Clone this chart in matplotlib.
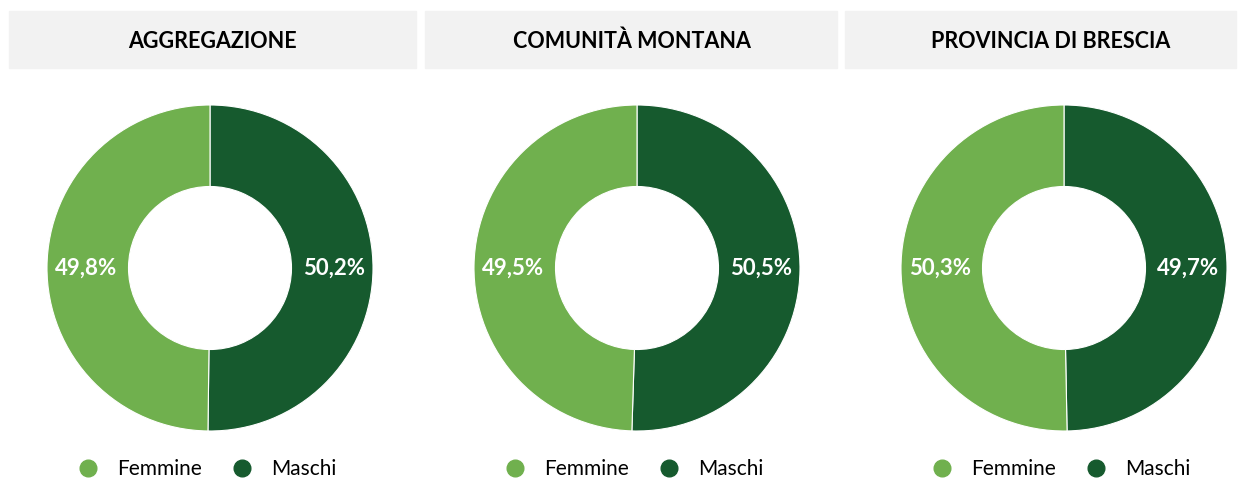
import matplotlib.pyplot as plt
from matplotlib.patches import Rectangle
from matplotlib.lines import Line2D

plt.rcParams['font.family'] = ['Lato', 'DejaVu Sans']

# Dati
titoli = ['AGGREGAZIONE', 'COMUNITÀ MONTANA', 'PROVINCIA DI BRESCIA']
categorie = ['Maschi', 'Femmine']
maschi = [50.2, 50.5, 49.7]
femmine = [49.8, 49.5, 50.3]

col_f = '#70b04e'
col_m = '#165a2e'

W, H = 1244, 478
fig = plt.figure(figsize=(W / 100, H / 100), dpi=100)

# posizioni in pixel (x sinistra, x destra) dei box dei titoli e centri
box_x = [(9, 416), (425, 837), (845, 1236)]
testo_x = [212.5, 631.5, 1051]
centri_x = [210, 637, 1064]
cy, r = 268, 163

for i in range(3):
    x0, x1 = box_x[i]
    fig.patches.append(Rectangle((x0 / W, 1 - 68 / H), (x1 - x0) / W, 57 / H,
                                 transform=fig.transFigure, color='#f2f2f2', zorder=0))
    fig.text(testo_x[i] / W, 1 - 41 / H, titoli[i], ha='center', va='center',
             fontsize=15.5, fontweight='bold', color='black')

    cx = centri_x[i]
    ax = fig.add_axes([(cx - r) / W, (H - cy - r) / H, 2 * r / W, 2 * r / H])
    valori = [maschi[i], femmine[i]]
    wedges, testi = ax.pie(valori, colors=[col_m, col_f], startangle=90, counterclock=False,
                           radius=1, wedgeprops=dict(width=0.5, edgecolor='white', linewidth=0.8),
                           labels=[f'{v:.1f}%'.replace('.', ',') for v in valori],
                           labeldistance=0.76,
                           textprops=dict(color='white', fontsize=16, fontweight='bold',
                                          ha='center', va='center'))
    # etichette allineate orizzontalmente al centro
    for t in testi:
        t.set_y(0)
    ax.set_xlim(-1, 1)
    ax.set_ylim(-1, 1)

    maniglie = [Line2D([], [], marker='o', linestyle='', markersize=12, color=col_f),
                Line2D([], [], marker='o', linestyle='', markersize=12, color=col_m)]
    fig.legend(maniglie, ['Femmine', 'Maschi'], loc='center',
               bbox_to_anchor=((cx - 3) / W, 1 - 469 / H), ncol=2, frameon=False,
               fontsize=15, handlelength=1.0, handletextpad=0.9, columnspacing=1.4)

fig.savefig('out.png', dpi=100)
